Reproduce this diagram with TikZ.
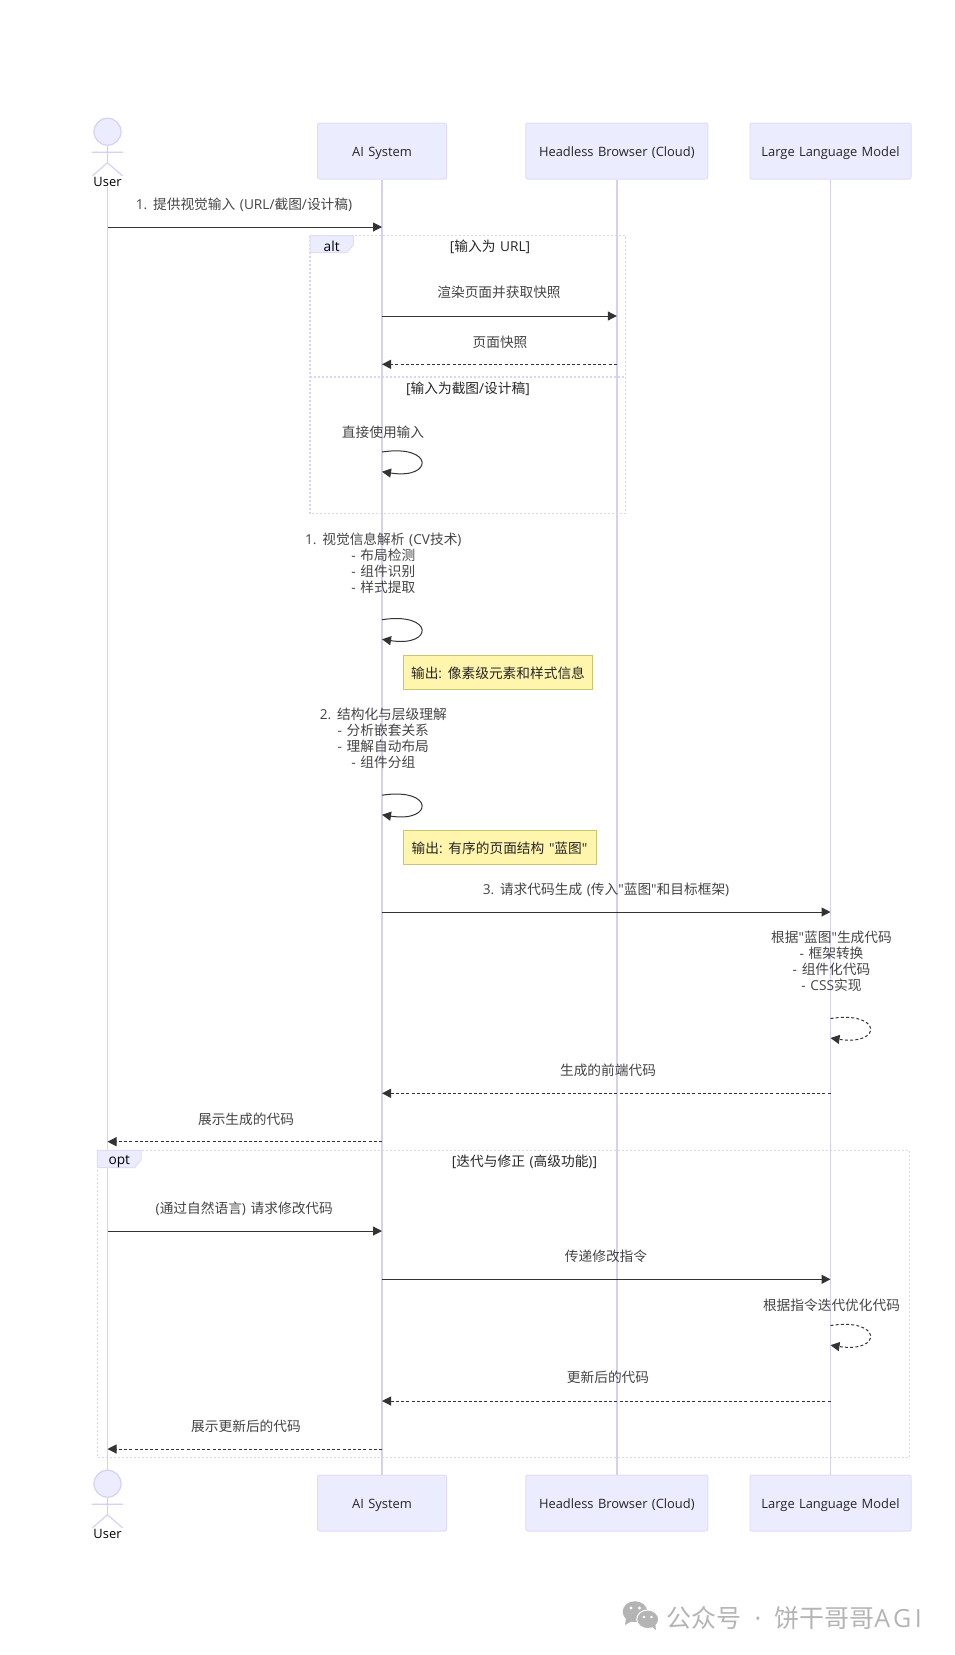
\documentclass[tikz,border=0pt]{standalone}
\usepackage{fontspec}
\setmainfont[Ligatures=TeXOff,WordSpace=1.3]{Open Sans}
\newfontfamily\cjk{Noto Sans CJK SC}
\usepackage{tikz}
\usetikzlibrary{arrows.meta}
\newcommand{\zh}[1]{{\cjk #1}}
\definecolor{boxfill}{HTML}{ECECFF}
\definecolor{boxline}{HTML}{E0DCF8}
\definecolor{lifeline}{HTML}{D8D0F4}
\definecolor{frameline}{HTML}{D9D5F7}
\definecolor{notefill}{HTML}{FFF5AD}
\definecolor{noteline}{HTML}{C8C66E}
\definecolor{msgtext}{HTML}{444444}
\definecolor{markgray}{HTML}{B4B4B4}

\begin{document}
\begin{tikzpicture}[x=1pt,y=-1pt,>={Triangle[length=9pt,width=9pt]},
  every node/.style={font=\fontsize{13.7}{16}\selectfont,inner sep=0pt},
  actor box/.style={draw=boxline,fill=boxfill,line width=1pt,rounded corners=2pt,minimum width=#1,minimum height=56pt,text=black!85,
    font=\fontsize{12.9}{16}\selectfont,text height=13pt,text depth=3pt},
  actor head/.style={circle,draw=lifeline,fill=boxfill,line width=1.2pt,minimum size=27pt},
  actor line/.style={draw=lifeline,line width=1.2pt},
  actor text/.style={text=black,font=\fontsize{12.9}{16}\selectfont,yshift=-1pt},
  life/.style={draw=lifeline,line width=1.4pt},
  msg/.style={draw=black!80,line width=1pt,->},
  reply/.style={msg,dash pattern=on 3pt off 2.2pt},
  label/.style={text=msgtext,align=center,yshift=-0.4pt},
  guard/.style={text=black!85,align=center,yshift=-0.8pt},
  frame/.style={draw=frameline,line width=1.4pt,dash pattern=on 2pt off 2pt},
  tab/.style={draw=boxline,fill=boxfill,line width=1pt},
  tab text/.style={text=black,yshift=-1.5pt},
  note box/.style={draw=noteline,fill=notefill,line width=1pt,text=black!85,minimum height=34pt,text height=14pt,text depth=3.4pt}]

  \useasboundingbox (0,0) rectangle (954,1655);

  % frames
  \draw[frame] (310,235.7) rectangle (625.5,513.7);
  \draw[frame] (310,377) -- (625.5,377);
  \draw[frame] (97.3,1150.3) rectangle (909.3,1457.7);

  % participants
  \node[actor head] (user) at (107.5,131.7) {};
  \node[actor text] (usertext) at (107.5,181) {User};
  \node[actor box=129pt] (ai) at (382,151) {AI System};
  \node[actor box=182pt] (browser) at (616.8,151) {Headless Browser (Cloud)};
  \node[actor box=161pt] (model) at (830.5,151) {Large Language Model};
  \node[actor head] (userb) at (107.5,1483.7) {};
  \node[actor text] (userbtext) at (107.5,1532.5) {User};
  \node[actor box=129pt] (aib) at (382,1503) {AI System};
  \node[actor box=182pt] (browserb) at (616.8,1503) {Headless Browser (Cloud)};
  \node[actor box=161pt] (modelb) at (830.5,1503) {Large Language Model};

  \foreach \a in {user,userb} {
    \draw[actor line] (\a.south) -- +(0,17) -- +(-15,30) +(0,17) -- +(15,30) +(-15.5,6.5) -- +(15.5,6.5);
  }

  \draw[life] (usertext) -- (userb);
  \draw[life] (ai) -- (aib);
  \draw[life] (browser) -- (browserb);
  \draw[life] (model) -- (modelb);

  % rows
  \foreach \n/\y in {m1/227,m2/316,m3/364.3,m4/912,m5/1093.3,m6/1141.7,m7/1231,m8/1279.3,m9/1401,m10/1449,
      la/452,lb/471.7,lc/619.7,ld/639.3,le/795.2,lf/814.8,lg/1018.5,lh/1038,li/1325.5,lj/1345.2} {
    \coordinate (\n) at (0,\y);
  }

  % tabs
  \draw[tab] (310,235.7) -- (353.3,235.7) -- (353.3,245) -- (346.7,252.7) -- (310,252.7) -- cycle;
  \draw[tab] (97.3,1150.3) -- (141,1150.3) -- (141,1160) -- (134.5,1167.7) -- (97.3,1167.7) -- cycle;
  \node[tab text] (alttab) at (331.7,244.5) {alt};
  \node[tab text] (opttab) at (119.3,1160) {opt};

  % messages
  \draw[msg] (user |- m1) -- (ai |- m1);
  \draw[msg] (ai |- m2) -- (browser |- m2);
  \draw[reply] (browser |- m3) -- (ai |- m3);
  \draw[msg] (ai |- la) .. controls +(52,-8) and +(52,8) .. (ai |- lb);
  \draw[msg] (ai |- lc) .. controls +(52,-8) and +(52,8) .. (ai |- ld);
  \draw[msg] (ai |- le) .. controls +(52,-8) and +(52,8) .. (ai |- lf);
  \draw[msg] (ai |- m4) -- (model |- m4);
  \draw[reply] (model |- lg) .. controls +(52,-8) and +(52,8) .. (model |- lh);
  \draw[reply] (model |- m5) -- (ai |- m5);
  \draw[reply] (ai |- m6) -- (user |- m6);
  \draw[msg] (user |- m7) -- (ai |- m7);
  \draw[msg] (ai |- m8) -- (model |- m8);
  \draw[reply] (model |- li) .. controls +(52,-8) and +(52,8) .. (model |- lj);
  \draw[reply] (model |- m9) -- (ai |- m9);
  \draw[reply] (ai |- m10) -- (user |- m10);

  % labels
  \node[label] (lab1) at (244,204) {1. \zh{提供视觉输入} (URL/\zh{截图}/\zh{设计稿})};
  \node[guard] (guard1) at (490,246) {[\zh{输入为} URL]};
  \node[label] (lab2) at (499,292) {\zh{渲染页面并获取快照}};
  \node[label] (lab3) at (500,342) {\zh{页面快照}};
  \node[guard] (guard2) at (468,388) {[\zh{输入为截图}/\zh{设计稿}]};
  \node[label] (lab4) at (383,431.7) {\zh{直接使用输入}};
  \node[label] (lab5) at (383.3,563.3) {1. \zh{视觉信息解析} (CV\zh{技术})\\- \zh{布局检测}\\- \zh{组件识别}\\- \zh{样式提取}};
  \node[note box,minimum width=189.4pt] (note1) at (498,672.7) {\zh{输出}: \zh{像素级元素和样式信息}};
  \node[label] (lab6) at (383.3,737.5) {2. \zh{结构化与层级理解}\\- \zh{分析嵌套关系}\\- \zh{理解自动布局}\\- \zh{组件分组}};
  \node[note box,minimum width=193pt] (note2) at (499.5,847.7) {\zh{输出}: \zh{有序的页面结构} "\zh{蓝图}"};
  \node[label] (lab7) at (606,889.5) {3. \zh{请求代码生成} (\zh{传入}"\zh{蓝图}"\zh{和目标框架})};
  \node[label] (lab8) at (831.5,961) {\zh{根据}"\zh{蓝图}"\zh{生成代码}\\- \zh{框架转换}\\- \zh{组件化代码}\\- CSS\zh{实现}};
  \node[label] (lab9) at (608,1070) {\zh{生成的前端代码}};
  \node[label] (lab10) at (246,1118.6) {\zh{展示生成的代码}};
  \node[guard] (guard3) at (524.5,1161) {[\zh{迭代与修正} (\zh{高级功能})]};
  \node[label] (lab11) at (244.3,1208.3) {(\zh{通过自然语言}) \zh{请求修改代码}};
  \node[label] (lab12) at (606,1256) {\zh{传递修改指令}};
  \node[label] (lab13) at (831.5,1304.5) {\zh{根据指令迭代优化代码}};
  \node[label] (lab14) at (608,1377) {\zh{更新后的代码}};
  \node[label] (lab15) at (246,1425.7) {\zh{展示更新后的代码}};

  % watermark
  \fill[markgray] (635,1611.7) ellipse (12.3 and 10.5);
  \fill[markgray] (626,1618) -- (625,1625) -- (634,1620) -- cycle;
  \fill[white] (631,1608) circle (1.6) (639.5,1608) circle (1.6);
  \draw[white,fill=markgray,line width=1pt] (647.7,1619.3) ellipse (11 and 9.3);
  \fill[markgray] (651,1626) -- (656,1630) -- (655,1623) -- cycle;
  \fill[white] (644,1617) circle (1.3) (651.5,1617) circle (1.3);
  \node[text=markgray,font=\fontsize{25}{28}\selectfont,anchor=west] (mark) at (666.5,1617.5) {\zh{公众号}\hspace{13pt}·\hspace{13pt}\zh{饼干哥哥}{\addfontfeature{LetterSpace=14}AGI}};

\end{tikzpicture}
\end{document}
